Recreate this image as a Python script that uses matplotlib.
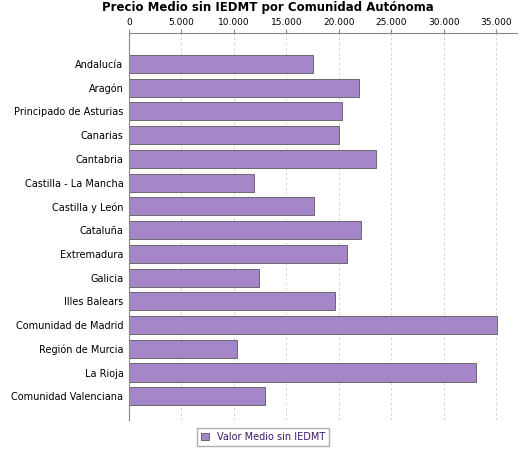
import matplotlib
matplotlib.use("Agg")
import matplotlib.pyplot as plt
from matplotlib.ticker import FuncFormatter

regions = ["Andalucía","Aragón","Principado de Asturias","Canarias","Cantabria",
           "Castilla - La Mancha","Castilla y León","Cataluña","Extremadura","Galicia",
           "Illes Balears","Comunidad de Madrid","Región de Murcia","La Rioja","Comunidad Valenciana"]
values = [17550,21950,20320,20040,23570,11930,17650,22140,20800,12400,
          19660,35120,10300,33110,12980]

fig = plt.figure(figsize=(5.25,4.5), dpi=100)
ax = fig.add_axes([129/525, 1-420/450, 388/525, 387/450])
y = range(len(regions))
ax.barh(y, values, height=0.76, color="#a586c9", edgecolor="#5a5a5a", linewidth=0.6, label="Valor Medio sin IEDMT", zorder=2)
ax.set_ylim(len(regions)-1+1.0, -1.3)
ax.set_yticks(list(y))
ax.set_yticklabels(regions, fontsize=7)
ax.set_xlim(0, 37000)
ax.set_xticks(range(0,35001,5000))
ax.xaxis.set_major_formatter(FuncFormatter(lambda v,p: f"{int(v):,}".replace(",", ".")))
ax.xaxis.tick_top()
ax.tick_params(axis="x", labelsize=6.5, length=3, pad=1, color="#888888")
ax.tick_params(axis="y", length=0, pad=4)
ax.grid(axis="x", linestyle=(0,(3,3)), color="#cccccc", linewidth=0.6, zorder=0)
for s in ["right","bottom"]:
    ax.spines[s].set_visible(False)
ax.spines["top"].set_color("#888888")
ax.spines["left"].set_color("#888888")
fig.text(268/525, 1-8/450, "Precio Medio sin IEDMT por Comunidad Autónoma", ha="center", va="center", fontsize=8.5, fontweight="bold")
fig.legend(loc="center", bbox_to_anchor=(263/525, 1-437/450), fontsize=7, frameon=True, edgecolor="#999999",
           fancybox=False, handlelength=0.8, handleheight=0.8, borderpad=0.4, labelcolor="#3a1a6a")
fig.savefig("out.png", dpi=100)
